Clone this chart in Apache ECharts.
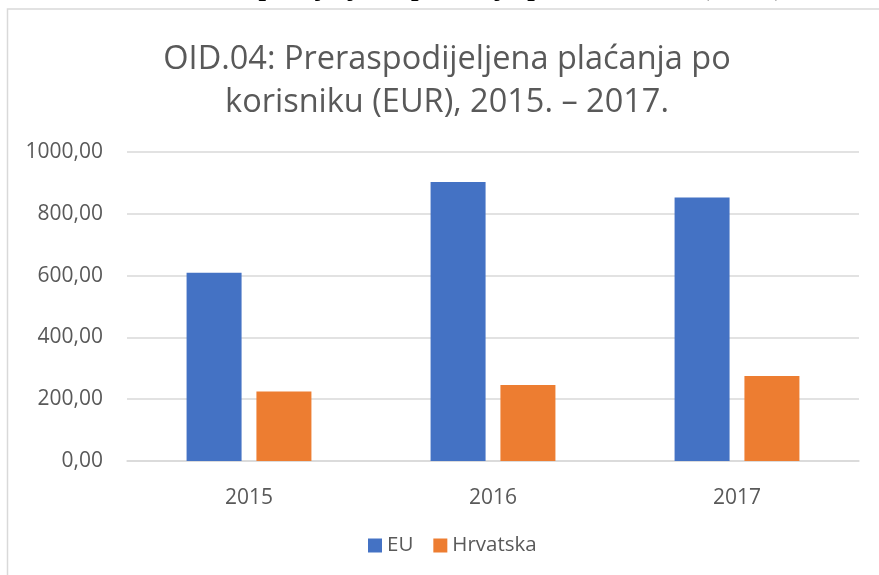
<!DOCTYPE html>
<html>
<head>
<meta charset="utf-8">
<script src="https://cdn.jsdelivr.net/npm/echarts@6/dist/echarts.min.js"></script>
<style>
  html, body { margin: 0; padding: 0; background: #ffffff; }
  #chart { width: 879px; height: 575px; }
</style>
</head>
<body>
<div id="chart"></div>
<script>
// podaci grafikona
const years = ['2015', '2016', '2017']
const euValues = [609, 903, 853]
const hrValues = [225, 246, 275]
const seriesNames = ['EU', 'Hrvatska']

const labelColor = '#595959'
const fontFamily = '"Open Sans", sans-serif'

const chart = echarts.init(document.getElementById('chart'), null, { renderer: 'canvas' })

const option = {
  backgroundColor: '#ffffff',
  animation: false,
  title: {
    text: 'OID.04: Preraspodijeljena plaćanja po\nkorisniku (EUR), 2015. – 2017.',
    left: 447,
    textAlign: 'center',
    top: 38,
    padding: 0,
    textStyle: {
      color: labelColor,
      fontFamily: fontFamily,
      fontSize: 32.5,
      fontWeight: 'normal',
      lineHeight: 43
    }
  },
  legend: {
    data: seriesNames,
    left: 368,
    top: 535,
    padding: 0,
    itemWidth: 14,
    itemHeight: 14,
    itemGap: 20,
    icon: 'rect',
    textStyle: {
      color: labelColor,
      fontFamily: fontFamily,
      fontSize: 20.5
    }
  },
  grid: {
    left: 127,
    right: 20,
    top: 152,
    bottom: 114,
    containLabel: false
  },
  xAxis: {
    type: 'category',
    data: years,
    axisLine: { show: true, lineStyle: { color: '#d9d9d9', width: 1.5 } },
    axisTick: { show: false },
    axisLabel: {
      color: labelColor,
      fontFamily: fontFamily,
      fontSize: 21,
      margin: 27
    }
  },
  yAxis: {
    type: 'value',
    min: 0,
    max: 1000,
    interval: 200,
    axisLine: { show: false },
    axisTick: { show: false },
    splitLine: { lineStyle: { color: '#d9d9d9', width: 1.5 } },
    axisLabel: {
      color: labelColor,
      fontFamily: fontFamily,
      fontSize: 21,
      margin: 24,
      formatter: v => v.toFixed(2).replace('.', ',')
    }
  },
  series: [{
    name: seriesNames[0],
    type: 'bar',
    data: euValues,
    barWidth: 55,
    barGap: '27%',
    itemStyle: { color: '#4472c4' }
  }, {
    name: seriesNames[1],
    type: 'bar',
    data: hrValues,
    barWidth: 55,
    barGap: '27%',
    itemStyle: { color: '#ed7d31' }
  }],
  graphic: [{
    // okvir grafikona
    type: 'rect',
    shape: { x: 7.5, y: 9, width: 900, height: 600 },
    style: { fill: 'none', stroke: '#d9d9d9', lineWidth: 1.5 },
    silent: true
  }, {
    // odrezani redak teksta iznad grafikona
    type: 'text',
    x: 177,
    y: -15,
    style: {
      text: 'Preraspodijeljena plaćanja po korisniku (EUR), 2015. – 2017.',
      fontFamily: '"Liberation Serif", serif',
      fontSize: 32.5,
      fill: '#000000',
      verticalAlign: 'middle'
    },
    silent: true
  }]
}

chart.setOption(option)
</script>
</body>
</html>
